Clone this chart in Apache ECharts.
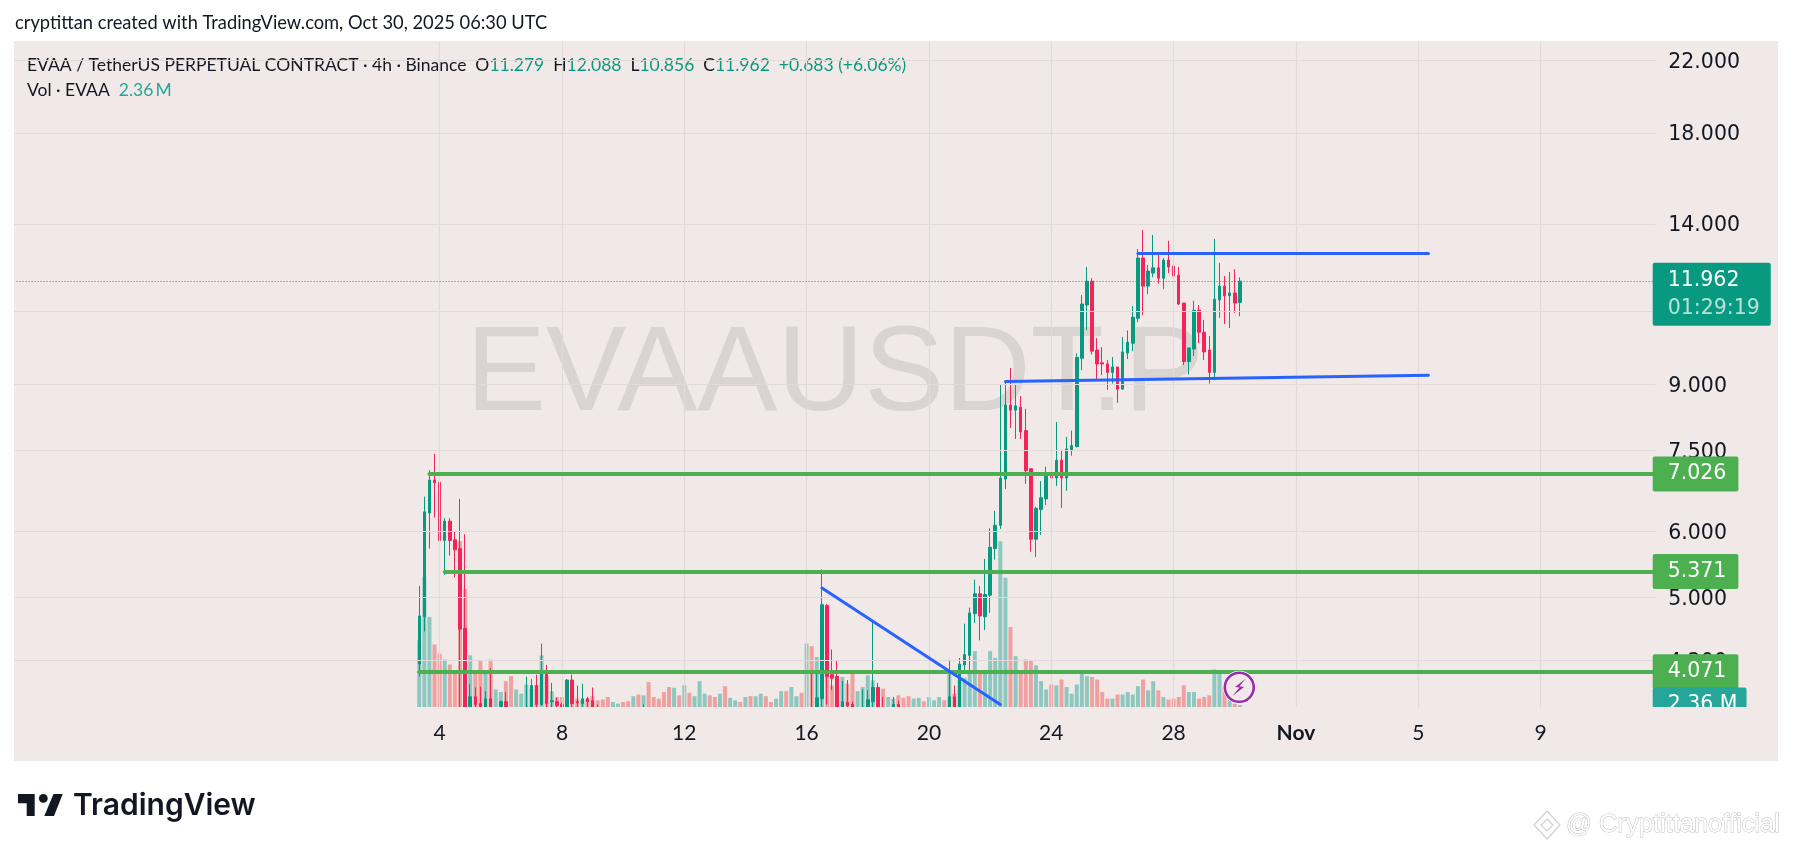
<!DOCTYPE html>
<html><head><meta charset="utf-8">
<style>html,body{margin:0;padding:0;background:#fff}#c{width:1793px;height:851px}</style>
<script src="https://cdn.jsdelivr.net/npm/echarts@6/dist/echarts.min.js"></script>
</head><body><div id="c"></div>
<script>
// bars [open, close, low, high]; null = the candle sits below the visible pane
const candles = [
[4.16,4.75,4.02,5.16],[4.74,6.33,4.55,6.60],[6.31,6.91,5.72,7.10],[6.91,6.86,6.23,7.43],[6.87,5.85,5.74,6.91],
[5.85,6.17,5.32,6.22],[6.17,5.85,5.61,6.22],[5.86,5.70,5.28,5.99],[5.72,4.58,3.60,6.56],[4.59,3.62,3.50,5.95],
[3.60,3.80,3.50,3.94],[3.80,3.72,3.66,3.90],[3.73,3.66,3.60,3.91],[3.60,3.78,3.55,3.86],[3.78,3.60,3.50,4.11],
null,[3.70,3.75,3.66,3.76],[3.75,3.65,3.60,3.85],null,null,
null,[3.55,3.65,3.50,4.02],[3.60,3.92,3.50,3.99],[3.92,3.72,3.65,4.04],[3.72,4.07,3.71,4.40],
[4.07,3.73,3.60,4.15],[3.75,3.76,3.60,3.95],[3.75,3.71,3.60,3.79],[3.72,3.62,3.60,3.74],[3.60,3.98,3.50,3.99],
[3.98,3.73,3.60,4.04],[3.75,3.74,3.60,3.92],[3.73,3.78,3.60,3.94],[3.78,3.75,3.60,3.80],[3.76,3.60,3.50,3.90],
[3.66,3.55,3.50,3.72],null,null,null,null,
null,null,null,null,[3.55,3.65,3.50,3.72],null,null,null,null,null,
null,null,null,null,null,null,null,null,null,null,
null,null,null,null,null,null,null,null,null,null,
null,null,null,null,null,null,
[3.50,3.65,3.40,4.21],[3.65,3.50,3.40,4.09],[3.50,3.79,3.40,4.07],[3.78,4.90,3.68,5.40],
[4.89,4.02,3.72,4.91],[4.04,4.00,3.87,4.33],[4.02,3.60,3.55,4.20],[3.60,3.75,3.55,3.97],[3.74,3.71,3.68,3.98],
[3.72,3.62,3.60,3.75],null,[3.50,3.60,3.45,3.88],[3.60,3.77,3.55,3.87],[3.75,3.90,3.68,4.70],
[3.90,3.62,3.60,3.95],[3.62,3.55,3.50,3.80],null,[3.60,3.72,3.55,3.80],[3.72,3.60,3.55,3.76],
null,null,null,null,null,
null,null,null,null,[3.60,3.80,3.55,4.21],
[3.80,3.60,3.55,3.92],[3.60,4.16,3.55,4.23],[4.15,4.27,4.07,4.65],[4.26,4.79,4.07,4.86],[4.78,5.05,4.66,5.25],
[5.05,4.75,4.44,5.16],[4.74,5.04,4.57,5.56],[5.03,5.74,4.79,6.05],[5.72,6.10,5.55,6.35],[6.10,6.95,6.04,8.98],
[6.93,8.50,6.74,9.10],[8.50,8.38,7.98,9.41],[8.38,8.48,7.74,8.98],[8.45,7.89,7.74,8.71],[7.92,7.09,6.84,8.41],
[7.13,5.87,5.67,7.13],[5.87,6.39,5.59,6.42],[6.37,6.58,5.94,6.89],[6.56,7.03,6.45,7.17],[7.03,6.95,6.30,7.34],
[6.95,7.30,6.80,8.11],[7.30,6.95,6.40,7.51],[6.95,7.53,6.71,7.78],[7.51,7.60,7.39,7.92],[7.58,9.69,7.56,9.80],
[9.67,11.23,9.36,11.51],[11.20,11.96,10.45,12.44],[11.96,9.86,9.77,12.06],[9.89,9.52,9.11,10.22],[9.55,9.52,9.23,9.97],
[9.52,9.30,8.86,9.62],[9.30,9.44,9.02,9.70],[9.44,8.88,8.55,9.44],[8.88,9.84,8.88,10.25],[9.81,10.11,9.65,10.44],
[10.08,10.83,9.86,11.17],[10.80,12.75,10.68,13.07],[12.75,11.80,10.89,13.77],[11.80,12.30,11.54,12.51],[12.23,12.41,12.09,13.59],
[12.41,12.06,11.88,12.93],[12.06,12.68,11.71,12.75],[12.68,12.44,12.23,13.37],[12.47,12.13,12.13,12.78],[12.16,11.23,11.20,12.44],
[11.26,9.58,9.49,11.26],[9.58,9.95,9.25,9.95],[9.92,11.04,9.73,11.33],[11.04,10.39,10.08,11.20],[10.39,9.84,9.62,10.75],
[9.89,9.30,9.02,10.28],[9.30,11.38,9.10,13.44],[11.36,11.80,10.81,12.58],[11.80,11.49,10.63,12.13],[11.49,11.58,10.51,12.27],
[11.58,11.26,10.96,12.36],[11.279,11.962,10.856,12.088]
];
const volumes = [
80,156,108,75,64,57,51,41,199,142,
62,41,55,44,57,21,18,31,37,21,
16,27,22,26,62,37,19,12,12,18,
14,10,8,10,13,8,9,12,6,4,
6,7,13,15,14,30,12,10,18,24,
23,14,26,17,13,31,16,14,12,16,
25,11,8,6,12,13,13,16,13,6,
10,19,19,24,13,17,76,73,60,107,
66,26,32,36,28,40,19,24,38,32,
23,22,12,10,14,11,13,10,11,7,
12,8,12,8,42,16,32,35,44,67,
44,44,67,59,199,155,96,61,40,57,
56,50,31,21,27,26,33,24,16,27,
43,37,36,33,18,10,10,15,15,18,
15,25,33,20,31,20,12,9,10,12,
26,18,18,10,12,14,45,43,24,8,
4,2.36
];
const volumeSides = ['uuuddudddd','udduduuddu','uuudududdu','dduddddduu','ddududdddd','ududuuuddu','duududuudd','uuduududuu',
'dddudduuuu','dduuddduud','uuududuuuu','duuuuududd','duuududuuu','uuddddud'+'uu','uuduududdd','duuddduudu','du'].join('');
const priceTicks = [22,18,14,11,9,7.5,6,5,4.2];
const dayTickBars = [4,28,52,76,100,124,148,172,196,220];
const dayTickLabels = ['4','8','12','16','20','24','28','Nov','5','9'];
const levels = [{from:2,value:7.026},{from:5,value:5.371},{from:0,value:4.071}];
const blueLines = [[141,12.92,198,12.92],[115,9.07,198,9.23],[79,5.13,114,3.72]];
const lastClose = 11.962, lastVolume = 2.36;

const LEAD = 79, TAIL = 80;               // empty bars either side of the data
const n = LEAD + candles.length + TAIL + 1;
const cats = Array.from({length:n},(_,k)=>'bar'+(k-LEAD));
const UP='#089981', DOWN='#f2245a', GREEN='#4caf50', BLUE='#2962ff', PANEL='#f0e9e8', INK='#131722', GRID='#e2dad9';
const PF='"DejaVu Sans"', TF='Lato';
const blank=['-','-','-','-'];
const candleData = Array(LEAD).fill(blank).concat(candles.map(c=>c||blank));
const volData = Array(LEAD).fill(null).concat(volumes.map((v,i)=>({value:v,itemStyle:{color:volumeSides[i]==='u'?'#8cc8bf':'#f0a09e'}})));
const tagIdx = dayTickBars.map(b=>b+LEAD);
const xEnd = n-1;

const tag=(txt,bg)=>({show:true,position:'end',distance:0,formatter:txt,color:'#fff',fontFamily:PF,fontSize:20.5,lineHeight:23,
  backgroundColor:bg,padding:[6,12,6,15],borderRadius:2});

const option={
 animation:false,backgroundColor:'#fff',
 grid:{left:14.05,width:1641.2,top:41,height:666,containLabel:false},
 xAxis:{type:'category',data:cats,boundaryGap:true,z:10,axisLine:{show:false},axisTick:{show:false},splitLine:{show:false},
  axisLabel:{margin:16,color:INK,fontFamily:TF,fontSize:21,hideOverlap:false,
   interval:(i)=>tagIdx.includes(i),
   formatter:(v,i)=>{const k=tagIdx.indexOf(i);if(k<0)return '';const t=dayTickLabels[k];return t==='Nov'?'{b|Nov}':t;},
   rich:{b:{fontFamily:TF,fontSize:21,fontWeight:'bold',color:INK}}}},
 yAxis:[
  {type:'log',logBase:10,min:3.695,max:23.2,position:'right',axisLine:{show:false},axisTick:{show:false,customValues:priceTicks},splitLine:{show:false},
   axisLabel:{customValues:priceTicks,inside:false,margin:13,color:INK,fontFamily:PF,fontSize:20.5,formatter:v=>'{a|'+Number(v).toFixed(3)+'}',showMinLabel:true,showMaxLabel:true,hideOverlap:false,
    rich:{a:{color:INK,fontFamily:PF,fontSize:20.5,padding:[4,0,0,0]}}}},
  {type:'value',min:0,max:799.2,show:false,splitLine:{show:false}}
 ],
 series:[
  {type:'line',name:'grid',data:[],z:0,silent:true,
   markLine:{silent:true,symbol:'none',animation:false,label:{show:false},lineStyle:{color:GRID,width:1.2,type:'solid'},
    data:[...priceTicks.map(p=>({yAxis:p})),...tagIdx.map(i=>({xAxis:i}))]}},
  {type:'bar',name:'Vol',yAxisIndex:1,data:volData,barWidth:4,z:1,silent:true,
   markLine:{silent:true,symbol:'none',animation:false,z:6,lineStyle:{width:1,color:'rgba(0,0,0,0)',type:'solid'},
    data:[[{xAxis:xEnd-1,yAxis:lastVolume,label:{...tag('2.36 M','#26a69a'),padding:[6,9,6,15]}},{xAxis:xEnd,yAxis:lastVolume}]]}},
  {type:'candlestick',name:'EVAA',data:candleData,barWidth:3,z:2,silent:true,
   itemStyle:{color:UP,color0:DOWN,borderColor:UP,borderColor0:DOWN,borderWidth:1}},
  {type:'line',name:'drawings',data:[],z:4,silent:true,
   markLine:{silent:true,symbol:'none',animation:false,
    data:[
     [{xAxis:0,yAxis:lastClose,lineStyle:{color:UP,width:1,type:[1,2]},
       label:{...tag('{a|11.962}\n{b|01:29:19}',UP),padding:[4,11,3,15],offset:[0,13],
         rich:{a:{color:'#fff',fontFamily:PF,fontSize:20.5,lineHeight:28},b:{color:'rgba(255,255,255,.7)',fontFamily:PF,fontSize:20.5,lineHeight:28}}}},
      {xAxis:xEnd,yAxis:lastClose}],
     ...levels.map(l=>[{xAxis:l.from+LEAD,yAxis:l.value,lineStyle:{color:GREEN,width:4,type:'solid',cap:'round'},label:tag(l.value.toFixed(3),GREEN)},{xAxis:xEnd,yAxis:l.value}]),
     ...blueLines.map(b=>[{xAxis:b[0]+LEAD,yAxis:b[1],lineStyle:{color:BLUE,width:3,type:'solid',cap:'round'},label:{show:false}},{xAxis:b[2]+LEAD,yAxis:b[3]}])
    ]}}
 ],
 graphic:[
  {type:'rect',z:-10,silent:true,shape:{x:14,y:41,width:1764,height:720},style:{fill:PANEL}},
  {type:'text',z:-5,silent:true,x:835,y:377,style:{text:'EVAAUSDT.P',fill:'#d9d4d2',font:'120px "Liberation Sans"',textAlign:'center',textVerticalAlign:'middle'}},
  {type:'rect',z:3,silent:true,shape:{x:1652.6,y:41,width:4,height:666},style:{fill:PANEL}},
  {type:'rect',z:3,silent:true,shape:{x:14,y:707,width:1638,height:54},style:{fill:PANEL}},
  {type:'rect',z:20,silent:true,shape:{x:1650,y:707,width:120,height:20},style:{fill:PANEL}},
  {type:'text',z:5,silent:true,x:15,y:23.5,style:{text:'cryptittan created with TradingView.com, Oct 30, 2025 06:30 UTC',fill:INK,font:'18.3px '+TF,textVerticalAlign:'middle'}},
  {type:'text',z:5,silent:true,x:27,y:65,style:{textVerticalAlign:'middle',font:'17.5px '+TF,fill:INK,
    text:'EVAA / TetherUS PERPETUAL CONTRACT · 4h · Binance  O{g|11.279}  H{g|12.088}  L{g|10.856}  C{g|11.962}  {g|+0.683 (+6.06%)}',
    rich:{g:{fill:UP,font:'17.5px '+TF}}}},
  {type:'text',z:5,silent:true,x:27,y:90,style:{textVerticalAlign:'middle',font:'17.5px '+TF,fill:INK,
    text:'Vol · EVAA  {g|2.36\u2009M}',rich:{g:{fill:'#26a69a',font:'17.5px '+TF}}}},
  // flash icon
  {type:'circle',z:8,silent:true,shape:{cx:1239.3,cy:687.3,r:16.5},style:{fill:'#fff'}},
  {type:'circle',z:9,silent:true,shape:{cx:1239.3,cy:687.3,r:14.5},style:{fill:PANEL,stroke:'#9c27b0',lineWidth:2.6}},
  {type:'polygon',z:9,silent:true,shape:{points:[[1246,678.5],[1235,687],[1239.5,687.6],[1232.5,696],[1244,687],[1239.3,686.2]]},style:{fill:'#9c27b0'}},
  // logo
  {type:'polygon',z:5,silent:true,shape:{points:[[18,794],[34.7,794],[34.7,816],[26.7,816],[26.7,803.3],[18,803.3]]},style:{fill:INK}},
  {type:'circle',z:5,silent:true,shape:{cx:43.3,cy:798.4,r:4.4},style:{fill:INK}},
  {type:'polygon',z:5,silent:true,shape:{points:[[53.5,794],[62.7,794],[54,816],[44.3,816]]},style:{fill:INK}},
  {type:'text',z:5,silent:true,x:73,y:806,style:{text:'TradingView',fill:INK,font:'600 30px Inter',textVerticalAlign:'middle'}},
  // footer watermark
  {type:'polygon',z:5,silent:true,shape:{points:[[1547,811],[1560,825],[1547,839],[1534,825]]},style:{fill:'#fff',stroke:'#d0d0d0',lineWidth:1.2}},
  {type:'polygon',z:5,silent:true,shape:{points:[[1547,819],[1553,825],[1547,831],[1541,825]]},style:{fill:'#fff',stroke:'#d0d0d0',lineWidth:1.2}},
  {type:'text',z:5,silent:true,x:1566,y:825,style:{text:'@ Cryptittanofficial',fill:'#fff',stroke:'#c0c0c0',lineWidth:1,font:'25.5px "Liberation Sans"',textVerticalAlign:'middle'}}
 ]
};
const chart=echarts.init(document.getElementById('c'),null,{renderer:'canvas',width:1793,height:851});
chart.setOption(option);
</script></body></html>
